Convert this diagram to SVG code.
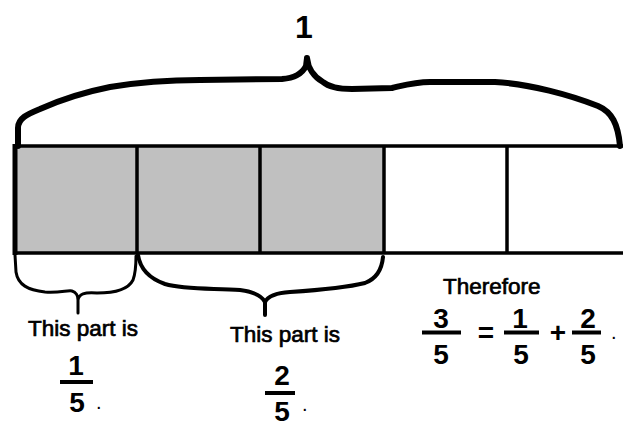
<svg xmlns="http://www.w3.org/2000/svg" width="623" height="424" viewBox="0 0 623 424">
<style>
.t{font-family:"Liberation Sans",Arial,sans-serif;fill:#000}
.lbl{font-size:22.5px;stroke:#000;stroke-width:0.7}
.num{font-size:28px;text-anchor:middle;font-weight:bold}
.dot{font-size:20px}
.br{fill:none;stroke:#000;stroke-linecap:round;stroke-linejoin:round}
.bar{stroke:#000;stroke-width:4}
.cell{stroke:#000;stroke-width:3.5}
</style>
<rect width="623" height="424" fill="#fff"/>
<g id="strip">
<rect x="15" y="146" width="369" height="107" fill="#c0c0c0"/>
<rect x="15" y="146" width="620" height="107" fill="none" class="cell"/>
<line x1="15" y1="144" x2="15" y2="255" stroke="#000" stroke-width="5"/>
<line x1="137" y1="146" x2="137" y2="253" class="cell"/>
<line x1="260" y1="146" x2="260" y2="253" class="cell"/>
<line x1="384" y1="146" x2="384" y2="253" class="cell"/>
<line x1="507" y1="146" x2="507" y2="253" class="cell"/>
</g>
<g id="connectors">
<path class="br" stroke-width="6" d="M18,146 L18,128 C18,118 28,114 40,109 C60,100 80,93 110,87 C140,82 170,80 200,80 L282,79 C296,78 303,72 306,66 L307,58 M307,58 C308,68 314,77 323,82 C330,88 340,89 352,89 L392,88 C405,85 415,82 430,82 L495,82 C530,84 570,95 598,106 C612,112 618,124 620,146"/>
<path class="br" stroke-width="3" d="M15,255 L16,272 C18,285 28,290 45,292 C60,293 68,290 72,291 C76,292 78,296 78,300 L78,313 M78,300 C79,294 84,292 97,293 C115,293 128,290 133,280 C136,272 136,262 136,256"/>
<path class="br" stroke-width="4" d="M138,255 C140,268 148,278 165,284 C185,290 215,288 240,290 C255,292 262,296 265,302 L265,315 M265,302 C268,296 275,293 290,292 C320,290 345,288 365,283 C378,278 382,268 383,257"/>
</g>
<g id="whole">
<text class="t" x="304" y="38" font-size="32" font-weight="bold" text-anchor="middle">1</text>
</g>
<g id="part1">
<text class="t lbl" x="28" y="336">This part is</text>
<text class="t num" x="76" y="375">1</text>
<line class="bar" x1="60" y1="382" x2="93" y2="382"/>
<text class="t num" x="77" y="412">5</text>
<text class="t dot" x="96" y="409">.</text>
</g>
<g id="part2">
<text class="t lbl" x="230" y="342">This part is</text>
<text class="t num" x="282" y="385">2</text>
<line class="bar" x1="265" y1="393" x2="295" y2="393"/>
<text class="t num" x="282" y="421">5</text>
<text class="t dot" x="302" y="411">.</text>
</g>
<g id="therefore">
<text class="t lbl" x="443" y="294">Therefore</text>
<text class="t num" x="441" y="328">3</text>
<line class="bar" x1="422" y1="332.5" x2="461" y2="332.5"/>
<text class="t num" x="441" y="364">5</text>
<text class="t num" x="486" y="342">=</text>
<text class="t num" x="520" y="328">1</text>
<line class="bar" x1="504" y1="332.5" x2="539" y2="332.5"/>
<text class="t num" x="521" y="364">5</text>
<text class="t num" x="558" y="342">+</text>
<text class="t num" x="588" y="328">2</text>
<line class="bar" x1="572" y1="332.5" x2="601" y2="332.5"/>
<text class="t num" x="588" y="364">5</text>
<text class="t dot" x="611" y="339">.</text>
</g>
</svg>
